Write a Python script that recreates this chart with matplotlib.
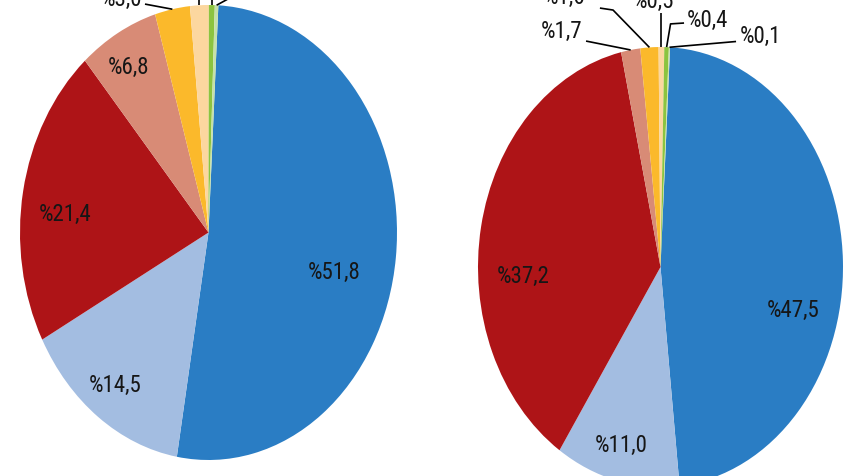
import numpy as np
import matplotlib
matplotlib.use('Agg')
import matplotlib.pyplot as plt
from matplotlib import font_manager

# ---- data ----
left_values = [51.8, 14.5, 21.4, 6.8, 3.0, 1.6, 0.5, 0.3]
right_values = [47.5, 11.0, 37.2, 1.7, 1.6, 0.5, 0.4, 0.1]
slice_colors = ['#2A7DC4', '#A3BDE1', '#AE1417', '#D88B76',
                '#FBB92B', '#FCD79F', '#8CC43F', '#C6E1A8']


def fmt(v):
    return '%' + f'{v:.1f}'.replace('.', ',')


available = {f.name for f in font_manager.fontManager.ttflist}
prefs = [('Liberation Sans Narrow', 16.0), ('Arial Narrow', 16.0),
         ('Roboto Condensed', 16.5), ('Roboto', 15.0), ('Liberation Sans', 14.0)]
FONT, FS = 'DejaVu Sans', 13.0
for name, size in prefs:
    if name in available:
        FONT, FS = name, size
        break
TXT = '#161616'

W, H = 852, 476
fig = plt.figure(figsize=(W / 100, H / 100), dpi=100)


def add_pie_axes(left, top, right, bottom):
    return fig.add_axes([left / W, 1 - bottom / H, (right - left) / W, (bottom - top) / H])


def draw_pie(ax, values, inner, outer):
    wedges, _ = ax.pie(values, colors=slice_colors, startangle=87, counterclock=False,
                       radius=1, wedgeprops=dict(linewidth=0))
    ax.set_aspect('auto')
    ax.set_xlim(-1, 1)
    ax.set_ylim(-1, 1)
    ax.axis('off')
    for w in wedges:
        w.set_clip_on(False)
    mids = [np.deg2rad((w.theta1 + w.theta2) / 2) for w in wedges]
    for i, (r, dth) in inner.items():
        a = mids[i] + np.deg2rad(dth)
        ax.text(r * np.cos(a), r * np.sin(a), fmt(values[i]), ha='center', va='center',
                fontsize=FS, family=FONT, color=TXT)
    for i, (txy, pts) in outer.items():
        ex, ey = np.cos(mids[i]), np.sin(mids[i])
        xs = [p[0] if p[0] is not None else ex for p in pts] + [ex]
        ys = [p[1] for p in pts] + [ey]
        ax.plot(xs, ys, color='black', lw=1.2, clip_on=False, solid_capstyle='butt')
        ax.text(txy[0], txy[1], fmt(values[i]), ha='center', va='center',
                fontsize=FS, family=FONT, color=TXT, clip_on=False)


ax1 = add_pie_axes(20, 5, 397, 460)
left_inner = {0: (0.688, -8.3), 1: (0.834, -0.7), 2: (0.765, 4.4), 3: (0.839, 1.5)}
left_outer = {
    4: ((-0.459, 1.026), [(-0.337, 1.004)]),
    5: ((-0.22, 1.22), [(None, 1.12)]),
    6: ((0.02, 1.30), [(None, 1.12)]),
    7: ((0.26, 1.14), [(0.14, 1.06), (0.098, 1.024)]),
}
draw_pie(ax1, left_values, left_inner, left_outer)

ax2 = add_pie_axes(478, 47, 843, 487)
right_inner = {0: (0.756, -16.8), 1: (0.837, -1.0), 2: (0.755, 13.9)}
right_outer = {
    3: ((-0.542, 1.070), [(-0.408, 1.027)]),
    4: ((-0.523, 1.227), [(-0.332, 1.177), (-0.260, 1.168)]),
    5: ((-0.041, 1.207), [(None, 1.155)]),
    6: ((0.255, 1.120), [(0.129, 1.109), (0.055, 1.105)]),
    7: ((0.550, 1.050), [(0.414, 1.025)]),
}
draw_pie(ax2, right_values, right_inner, right_outer)

fig.savefig('out.png', dpi=100, facecolor='white')
